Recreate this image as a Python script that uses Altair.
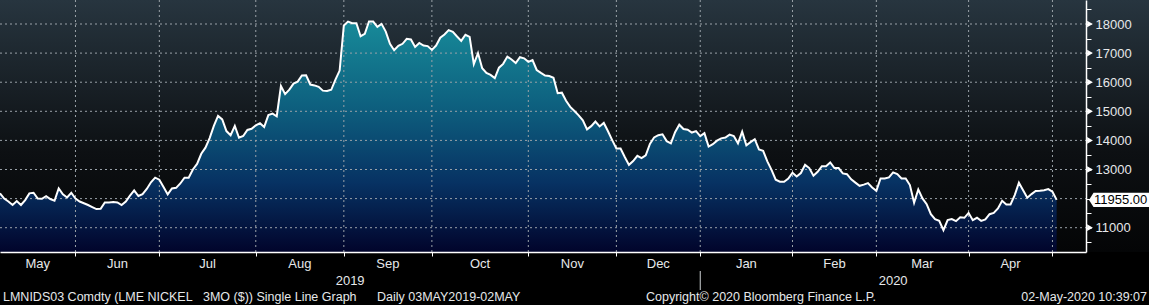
import altair as alt
import pandas as pd

# ---- data (LME Nickel 3M, one value per trading day) ----
may19 = [12180, 12000, 11900, 11780, 11915, 11780, 11950, 12180, 12200, 12000,
         11995, 12085, 11985, 11925, 12350, 12145, 12040, 12200, 12000]
jun19 = [11900, 11840, 11780, 11710, 11640, 11650, 11870, 11870, 11880, 11870,
         11780, 11900, 12100, 12280, 12090, 12155, 12330, 12560, 12720, 12650]
jul19 = [12400, 12145, 12350, 12370, 12520, 12720, 12715, 13000, 13190, 13540,
         13750, 14080, 14500, 14840, 14720, 14320, 14180, 14500, 14090, 14150,
         14360, 14400, 14520]
aug19 = [14590, 14460, 14870, 14920, 14830, 15870, 15590, 15745, 15950, 16020,
         16230, 16235, 15920, 15890, 15840, 15710, 15700, 15740, 16090, 16400, 17950]
sep19 = [18085, 18030, 18030, 17580, 17660, 18085, 18085, 17900, 18005, 17740,
         17320, 17100, 17250, 17320, 17490, 17470, 17210, 17350, 17260, 17240, 17110]
oct19 = [17260, 17530, 17640, 17790, 17730, 17570, 17420, 17630, 17560, 16620,
         17000, 16480, 16320, 16250, 16140, 16500, 16630, 16880, 16780, 16660,
         16860, 16820, 16700]
nov19 = [16760, 16420, 16320, 16230, 16210, 16150, 15620, 15640, 15360, 15150,
         15010, 14860, 14690, 14380, 14490, 14650, 14480, 14600, 14315, 14010, 13720]
dec19 = [13720, 13430, 13160, 13290, 13470, 13390, 13490, 13880, 14100, 14180,
         14210, 13975, 13900, 14280, 14540, 14390, 14370, 14270, 14320, 14150]
jan20 = [14250, 13790, 13870, 13990, 14070, 14100, 14200, 14150, 13900, 14300,
         13830, 13940, 14040, 13690, 13640, 13280, 12990, 12650, 12580, 12580,
         12690, 12890]
feb20 = [12760, 12880, 13160, 13050, 12785, 12920, 13115, 13115, 13240, 13050,
         13050, 12865, 12840, 12660, 12550, 12440, 12480, 12530, 12380, 12270]
mar20 = [12695, 12695, 12730, 12900, 12840, 12695, 12695, 12465, 11855, 12315,
         12005, 11810, 11465, 11295, 11235, 10915, 11260, 11295, 11225, 11355,
         11340, 11510]
apr20 = [11260, 11340, 11235, 11285, 11465, 11510, 11660, 11925, 11800, 11800,
         12120, 12545, 12290, 12030, 12155, 12260, 12270, 12290, 12325, 12235]
may20 = [11955]

holidays = ["2019-05-06", "2019-05-27", "2019-08-26", "2019-12-25",
            "2019-12-26", "2020-01-01", "2020-04-10", "2020-04-13"]
y_ticks = [11000, 12000, 13000, 14000, 15000, 16000, 17000, 18000]
month_names = ["May", "Jun", "Jul", "Aug", "Sep", "Oct", "Nov", "Dec",
               "Jan", "Feb", "Mar", "Apr"]
year_names = ["2019", "2020"]

footer_1 = "LMNIDS03 Comdty (LME NICKEL"
footer_2 = "3MO ($)) Single Line Graph"
footer_3 = "Daily 03MAY2019-02MAY"
footer_4 = "Copyright\u00a9 2020 Bloomberg Finance L.P."
footer_5 = "02-May-2020 10:39:07"

# ---- build tables ----
values = (may19 + jun19 + jul19 + aug19 + sep19 + oct19 + nov19 + dec19 +
          jan20 + feb20 + mar20 + apr20 + may20)
dates = pd.bdate_range("2019-05-03", "2020-05-01")
dates = dates[~dates.isin(pd.to_datetime(holidays))]
n = min(len(dates), len(values))
dates = dates[:n]
df = pd.DataFrame({"i": list(range(n)), "v": values[:n]})

XMAX = 259
YMIN, YMAX = 10165, 18825
W, H = 1086, 252

ym = pd.Series([d.year * 100 + d.month for d in dates])
month_end = [int(x) for x in pd.Series(range(n)).groupby(ym).max().tolist()]
bounds = month_end[:-1]                       # last trading day of May19..Apr20
starts = [0] + bounds[:-1]
grid_x = pd.DataFrame({"i": bounds})
months = pd.DataFrame({"i": [(a + b) / 2 for a, b in zip(starts, bounds)],
                       "label": month_names})
year_end_2019 = max(i for i, d in enumerate(dates) if d.year == 2019)
years = pd.DataFrame({"i": [year_end_2019 / 2, (year_end_2019 + XMAX) / 2],
                      "label": year_names})
sep_df = pd.DataFrame({"i": [year_end_2019]})
grid_y = pd.DataFrame({"v": y_ticks})
last_v = values[-1]
tri_df = pd.DataFrame({"v": [t for t in y_ticks if abs(t - last_v) > 300]})
last_df = pd.DataFrame({"v": [last_v], "label": [f"{last_v:.2f}"]})

xs = alt.Scale(domain=[0, XMAX], nice=False, zero=False)
ys = alt.Scale(domain=[YMIN, YMAX], nice=False, zero=False)

FONT = "Liberation Sans"
TXT = "#e6e8ea"
GRID = "#9aa2a8"

X_AXIS = alt.Axis(values=bounds, labels=False, tickSize=4, tickColor="white",
                  domainColor="white", domainWidth=1.5, grid=False, title=None,
                  zindex=1)
Y_AXIS = alt.Axis(orient="right", values=list(range(10500, 18501, 500)),
                  format="d", labelOverlap=False,
                  labelExpr="(datum.value % 1000 == 0 && datum.value != 12000) ? datum.label : ''",
                  tickSize=5, tickColor="white", domainColor="white",
                  domainWidth=1.5, labelColor=TXT, labelFont=FONT,
                  labelFontSize=13, labelPadding=4, grid=False, title=None,
                  zindex=1)


def X(f="i:Q"):
    return alt.X(f, scale=xs, axis=X_AXIS)


def Y(f="v:Q"):
    return alt.Y(f, scale=ys, axis=Y_AXIS)


bg = alt.Chart(pd.DataFrame({"a": [0]})).mark_rect(
    color=alt.Gradient(gradient="linear", x1=0, x2=0, y1=0, y2=1,
                       stops=[alt.GradientStop(offset=0, color="#27353f"),
                              alt.GradientStop(offset=0.6, color="#0d1013"),
                              alt.GradientStop(offset=1, color="#040506")])
).encode(x=alt.value(0), x2=alt.value(1149), y=alt.value(0), y2=alt.value(H))

area = alt.Chart(df).mark_area(
    color=alt.Gradient(gradient="linear", x1=0, x2=0, y1=0, y2=1,
                       stops=[alt.GradientStop(offset=0, color="#178a99"),
                              alt.GradientStop(offset=0.35, color="#0e6280"),
                              alt.GradientStop(offset=0.7, color="#073263"),
                              alt.GradientStop(offset=1, color="#01042b")])
).encode(x=X(), y=Y(), y2=alt.datum(YMIN))

hgrid = alt.Chart(grid_y).mark_rule(strokeDash=[2, 3], color=GRID, strokeWidth=1).encode(
    y=Y(), x=alt.value(0), x2=alt.value(W))
vgrid = alt.Chart(grid_x).mark_rule(strokeDash=[2, 3], color=GRID, strokeWidth=1).encode(
    x=X(), y=alt.value(0), y2=alt.value(H))

line = alt.Chart(df).mark_line(color="white", strokeWidth=2).encode(x=X(), y=Y())

tris = alt.Chart(tri_df).mark_point(shape="triangle-right", filled=True, color="white",
                                    size=45, opacity=1).encode(
    x=alt.value(W + 4), y=Y())

box = alt.Chart(last_df).mark_point(
    shape="M -1 0 L -0.85 -0.24 L 1 -0.24 L 1 0.24 L -0.85 0.24 Z",
    filled=True, color="white", size=3600, opacity=1, strokeWidth=0).encode(
    x=alt.value(1119), y=Y())
box_txt = alt.Chart(last_df).mark_text(align="left", baseline="middle", color="black",
                                       font=FONT, fontSize=13).encode(
    x=alt.value(1094), y=Y(), text="label:N")

mlab = alt.Chart(months).mark_text(color=TXT, font=FONT, fontSize=13, baseline="middle").encode(
    x=X(), y=alt.value(264), text="label:N")
ylab = alt.Chart(years).mark_text(color=TXT, font=FONT, fontSize=13, baseline="middle").encode(
    x=X(), y=alt.value(281), text="label:N")
ysep = alt.Chart(sep_df).mark_rule(color="#cfd3d6", strokeWidth=1).encode(
    x=X(), y=alt.value(271), y2=alt.value(290))


def foot(text, x, align="left"):
    return alt.Chart(pd.DataFrame({"t": [text]})).mark_text(
        align=align, baseline="middle", color=TXT, font=FONT, fontSize=12.5).encode(
        x=alt.value(x), y=alt.value(297), text="t:N")


chart = alt.layer(
    bg, area, hgrid, vgrid, line, tris, box, box_txt, mlab, ylab, ysep,
    foot(footer_1, 3), foot(footer_2, 203), foot(footer_3, 377),
    foot(footer_4, 646), foot(footer_5, 1147, "right"),
).properties(
    width=W, height=H,
    autosize=alt.AutoSizeParams(type="none"),
    padding={"left": 0, "top": 0, "right": 1149 - W, "bottom": 305 - H},
    background="#000000",
).configure_view(stroke=None)

chart.save("out.html", embed_options={"renderer": "svg", "actions": False})
